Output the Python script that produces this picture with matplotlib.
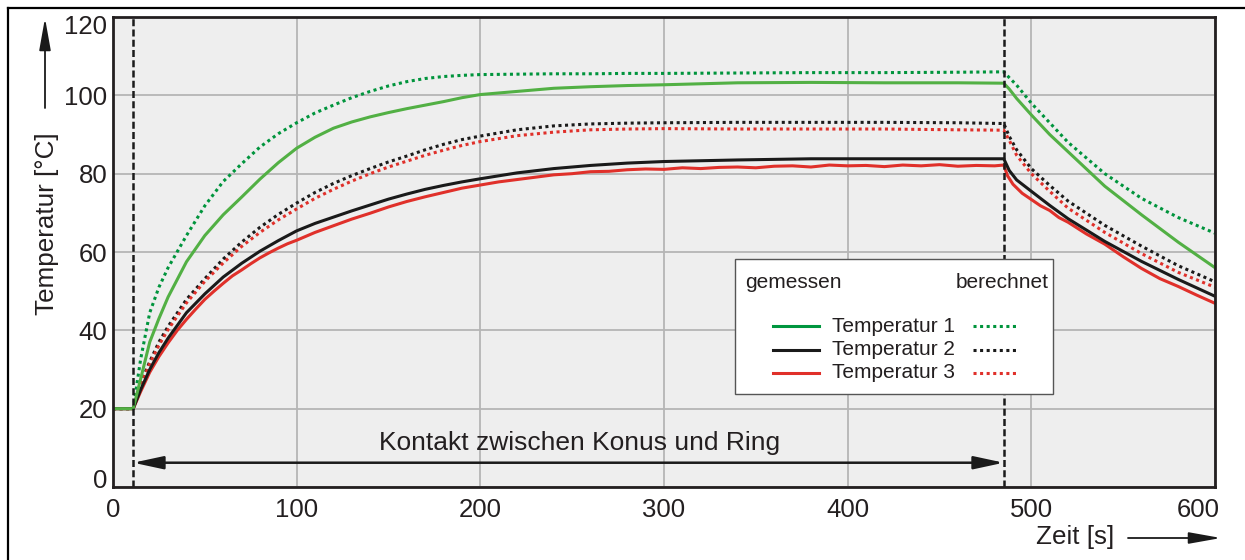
import matplotlib
matplotlib.use("Agg")
import matplotlib.pyplot as plt
from matplotlib.patches import Rectangle, FancyArrowPatch
from matplotlib.lines import Line2D
from matplotlib.transforms import ScaledTranslation

plt.rcParams['font.family'] = ['Liberation Sans', 'DejaVu Sans']

# ---------------- data ----------------
zeit = [0, 11, 15, 20, 25, 30, 40, 50, 60, 70, 80, 90, 100, 110, 120, 130, 140,
        150, 160, 170, 180, 190, 200, 220, 240, 260, 280, 300, 340, 380, 420,
        460, 485, 488, 492, 500, 510, 520, 540, 560, 580, 600]

t1_gemessen = [20, 20, 27.5, 37.0, 43.0, 48.5, 57.5, 64.2, 69.5, 74.0, 78.6, 82.8,
               86.5, 89.3, 91.6, 93.2, 94.5, 95.6, 96.6, 97.5, 98.4, 99.4, 100.2,
               101.0, 101.8, 102.2, 102.5, 102.7, 103.2, 103.3, 103.2, 103.2,
               103.1, 101.6, 99.2, 95.0, 90.0, 85.6, 76.8, 69.5, 62.5, 56.0]
t1_berechnet = [20, 20, 32.5, 44.5, 51.0, 56.0, 64.2, 71.8, 78.0, 82.5, 86.8, 90.2,
                93.0, 95.5, 97.5, 99.4, 101.0, 102.4, 103.5, 104.3, 104.8, 105.1,
                105.3, 105.4, 105.5, 105.5, 105.6, 105.6, 105.7, 105.8, 105.8,
                105.9, 106.0, 104.5, 102.6, 98.0, 93.0, 88.0, 80.0, 73.7, 68.8, 64.8]
t2_gemessen = [20, 20, 24.8, 30.0, 34.3, 38.0, 44.5, 49.3, 53.6, 57.1, 60.2, 62.9,
               65.4, 67.3, 68.9, 70.5, 72.0, 73.5, 74.8, 76.0, 77.0, 77.9, 78.7,
               80.2, 81.3, 82.1, 82.7, 83.1, 83.5, 83.8, 83.8, 83.8, 83.8, 80.8,
               78.4, 75.5, 71.9, 68.5, 62.7, 57.6, 53.0, 48.7]
t2_berechnet = [20, 20, 26.5, 32.0, 37.0, 41.0, 47.9, 53.2, 58.2, 62.5, 66.3, 69.6,
                72.5, 75.2, 77.5, 79.5, 81.3, 83.0, 84.5, 86.1, 87.5, 88.7, 89.6,
                91.2, 92.2, 92.7, 92.9, 93.0, 93.1, 93.1, 93.1, 93.0, 92.8, 89.5,
                86.1, 81.3, 77.0, 73.0, 66.8, 61.5, 56.5, 52.4]
t3_berechnet = [20, 20, 26.0, 31.5, 36.2, 40.2, 47.0, 52.5, 57.2, 61.4, 65.0, 68.2,
                71.0, 73.7, 76.0, 78.1, 80.0, 81.7, 83.2, 84.7, 86.0, 87.2, 88.2,
                89.7, 90.6, 91.2, 91.4, 91.5, 91.4, 91.4, 91.4, 91.2, 91.1, 88.5,
                84.7, 80.0, 75.5, 71.2, 65.0, 59.6, 54.8, 51.0]

# Temperatur 3 (measured) is sampled more finely, it carries visible sensor noise
zeit_t3 = [0, 11, 15, 20, 25, 30, 35, 40, 45, 50, 55, 60, 65, 70, 75, 80, 85, 90,
           95, 100, 110, 120, 130, 140, 150, 160, 170, 180, 190, 200, 210, 220,
           230, 240, 250, 260, 270, 280, 290, 300, 310, 320, 330, 340, 350, 360,
           370, 380, 390, 400, 410, 420, 430, 440, 450, 460, 470, 480, 485, 487,
           490, 495, 500, 505, 510, 515, 520, 530, 540, 550, 560, 570, 580, 590,
           600]
t3_gemessen = [20, 20, 24.3, 29.3, 33.3, 36.8, 40.0, 42.8, 45.4, 47.9, 50.0, 52.0,
               53.9, 55.4, 57.0, 58.5, 59.8, 61.0, 62.1, 63.0, 65.0, 66.7, 68.4,
               69.9, 71.5, 72.9, 74.1, 75.2, 76.3, 77.1, 77.9, 78.5, 79.1, 79.7,
               80.0, 80.5, 80.6, 81.0, 81.2, 81.1, 81.5, 81.3, 81.6, 81.7, 81.5,
               81.9, 82.0, 81.7, 82.2, 82.0, 82.1, 81.8, 82.2, 82.0, 82.3, 81.9,
               82.1, 82.0, 82.2, 79.5, 77.3, 75.0, 73.4, 71.8, 70.6, 68.8, 67.6,
               64.6, 62.0, 58.8, 55.8, 53.2, 51.2, 49.0, 46.9]

kontakt_start, kontakt_ende = 11, 485
x_ticks = [0, 100, 200, 300, 400, 500, 600]
y_ticks = [0, 20, 40, 60, 80, 100, 120]
legende_namen = ['Temperatur 1', 'Temperatur 2', 'Temperatur 3']

# ---------------- styles ----------------
GRUEN_MESS = '#52b044'
GRUEN_RECH = '#00943c'
GRUEN_LEG = '#00963f'
SCHWARZ = '#1a1a1a'
ROT = '#e0302a'
TEXT = '#231f20'
DOTS = (0, (1, 1.15))

W, H = 1245, 560
fig = plt.figure(figsize=(W / 100, H / 100), dpi=100)
ax = fig.add_axes([113 / W, 73 / H, 1102 / W, 470 / H])
ax.set_xlim(0, 600)
ax.set_ylim(0, 120)
ax.set_facecolor('#eeeeee')
ax.set_xticks(x_ticks)
ax.set_yticks(y_ticks)
ax.grid(True, color='#b5b5b5', lw=1.3, zorder=0)
ax.set_axisbelow(True)
ax.tick_params(length=0, labelsize=18.5, colors=TEXT)
ax.tick_params(axis='y', pad=4)
ax.tick_params(axis='x', pad=8)
for s in ax.spines.values():
    s.set_color(TEXT)
    s.set_linewidth(2.0)
    s.set_zorder(6)

# keep the outermost tick labels inside the plotting area
ylabels = ax.get_yticklabels()
ylabels[0].set_transform(ylabels[0].get_transform() + ScaledTranslation(0, 8 / 100, fig.dpi_scale_trans))
ylabels[-1].set_transform(ylabels[-1].get_transform() + ScaledTranslation(0, -8 / 100, fig.dpi_scale_trans))
xlabels = ax.get_xticklabels()
xlabels[-1].set_transform(xlabels[-1].get_transform() + ScaledTranslation(-17 / 100, 0, fig.dpi_scale_trans))

# computed curves (dotted)
ax.plot(zeit, t1_berechnet, color=GRUEN_RECH, lw=2.2, ls=DOTS, zorder=3)
ax.plot(zeit, t2_berechnet, color=SCHWARZ, lw=2.2, ls=DOTS, zorder=3)
ax.plot(zeit, t3_berechnet, color=ROT, lw=2.2, ls=DOTS, zorder=3)
# measured curves (solid)
ax.plot(zeit_t3, t3_gemessen, color=ROT, lw=2.2, zorder=4)
ax.plot(zeit, t2_gemessen, color=SCHWARZ, lw=2.2, zorder=4)
ax.plot(zeit, t1_gemessen, color=GRUEN_MESS, lw=2.2, zorder=4)

# contact interval markers
for tx in (kontakt_start, kontakt_ende):
    ax.axvline(tx, color=SCHWARZ, lw=1.8, ls=(0, (2.8, 1.3)), zorder=5)
ax.annotate('', xy=(kontakt_start, 6.2), xytext=(kontakt_ende, 6.2),
            arrowprops=dict(arrowstyle='<|-|>,head_length=1.3,head_width=0.28',
                            mutation_scale=14, lw=1.8, color=SCHWARZ,
                            shrinkA=0, shrinkB=0), zorder=5)
ax.text(254, 11.2, 'Kontakt zwischen Konus und Ring', ha='center', va='center',
        fontsize=19, color=TEXT, zorder=5)

# legend box
def px(x, y):
    return ((x - 113) / 1102, (487 - y) / 470)

x0, y0 = px(735, 394)
x1, y1 = px(1053, 259)
ax.add_patch(Rectangle((x0, y0), x1 - x0, y1 - y0, transform=ax.transAxes,
                       facecolor='white', edgecolor='#555555', lw=1.0, zorder=10))
ax.text(*px(745, 282), 'gemessen', transform=ax.transAxes, ha='left', va='center',
        fontsize=15, color=TEXT, zorder=11)
ax.text(*px(1049, 282), 'berechnet', transform=ax.transAxes, ha='right', va='center',
        fontsize=15, color=TEXT, zorder=11)
for name, cs, cd, yy in zip(legende_namen, [GRUEN_LEG, SCHWARZ, ROT],
                            [GRUEN_RECH, SCHWARZ, ROT], [326, 349.5, 373]):
    a, b = px(773, yy)
    c, _ = px(819, yy)
    ax.add_line(Line2D([a, c], [b, b], transform=ax.transAxes, color=cs, lw=2.2, zorder=11))
    d, _ = px(973, yy)
    e, _ = px(1019, yy)
    ax.add_line(Line2D([d, e], [b, b], transform=ax.transAxes, color=cd, lw=2.2,
                       ls=DOTS, zorder=11))
    ax.text(*px(832, yy), name, transform=ax.transAxes, ha='left', va='center',
            fontsize=15, color=TEXT, zorder=11)

# axis titles with direction arrows
fig.text(47 / W, 1 - 224 / H, 'Temperatur [°C]', rotation=90, ha='center', va='center',
         fontsize=18.7, color=TEXT)
fig.text(1075 / W, 1 - 537 / H, 'Zeit [s]', ha='center', va='center',
         fontsize=18.7, color=TEXT)
pfeil = dict(arrowstyle='-|>,head_length=1.4,head_width=0.25', mutation_scale=14,
             lw=1.3, color=SCHWARZ, shrinkA=0, shrinkB=0)
fig.add_artist(FancyArrowPatch((45 / W, 1 - 108 / H), (45 / W, 1 - 18 / H),
                               transform=fig.transFigure, **pfeil))
fig.add_artist(FancyArrowPatch((1128 / W, 1 - 538 / H), (1221 / W, 1 - 538 / H),
                               transform=fig.transFigure, **pfeil))

# outer frame
fig.add_artist(Line2D([8 / W, 8 / W], [0, 1 - 8 / H], transform=fig.transFigure,
                      color='black', lw=1.6))
fig.add_artist(Line2D([8 / W, 1], [1 - 8 / H, 1 - 8 / H], transform=fig.transFigure,
                      color='black', lw=1.6))

fig.savefig('out.png', dpi=100, facecolor='white')
